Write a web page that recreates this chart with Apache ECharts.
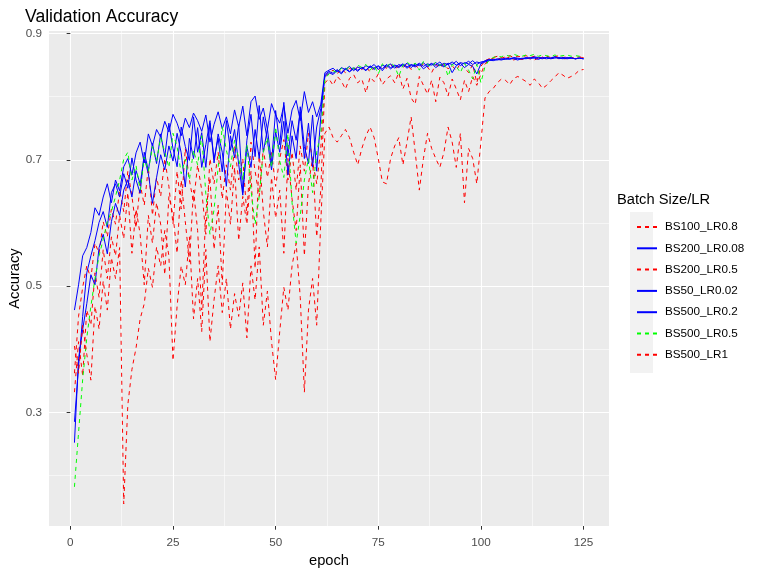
<!DOCTYPE html>
<html>
<head>
<meta charset="utf-8">
<script src="https://cdn.jsdelivr.net/npm/echarts@6/dist/echarts.min.js"></script>
<style>html,body{margin:0;padding:0;background:#fff;}#c{width:759px;height:575px;}</style>
</head>
<body>
<div id="c"></div>
<script>
// epochs 1..125
const epochs = [];
for (let i = 1; i <= 125; i++) epochs.push(i);

const seriesNames = ["BS100_LR0.8","BS200_LR0.08","BS200_LR0.5","BS50_LR0.02","BS500_LR0.2","BS500_LR0.5","BS500_LR1"];
const xTicks = [0, 25, 50, 75, 100, 125];
const xMinorTicks = [12.5, 37.5, 62.5, 87.5, 112.5];
const yTicks = [0.3, 0.5, 0.7, 0.9];
const yMinorTicks = [0.2, 0.4, 0.6, 0.8];

const BS100_LR0_8 = [
0.362,0.452,0.498,0.532,0.512,0.568,0.552,0.602,0.578,0.622,
0.598,0.652,0.618,0.682,0.642,0.592,0.662,0.628,0.688,0.612,
0.672,0.642,0.702,0.658,0.598,0.682,0.622,0.718,0.668,0.632,
0.692,0.652,0.582,0.702,0.662,0.712,0.638,0.692,0.652,0.722,
0.668,0.702,0.612,0.728,0.682,0.642,0.718,0.672,0.712,0.658,
0.702,0.732,0.668,0.712,0.652,0.722,0.682,0.742,0.698,0.662,
0.718,
0.832,0.838,0.842,0.836,0.844,0.838,0.845,0.841,0.847,
0.843,0.848,0.839,0.846,0.842,0.849,0.845,0.851,0.844,0.848,
0.846,0.851,0.843,0.849,0.845,0.852,0.847,0.838,0.851,0.846,
0.852,0.844,0.849,0.841,0.853,0.846,0.838,0.851,0.822,0.848,
0.857,0.860,0.862,0.864,0.861,0.863,0.865,0.862,0.864,0.863,
0.865,0.862,0.864,0.863,0.861,0.864,0.862,0.863,0.865,0.862,
0.863,0.861,0.862,0.863,0.862];

const BS200_LR0_08 = [
0.462,0.502,0.548,0.561,0.585,0.624,0.612,0.641,0.662,0.632,
0.668,0.651,0.689,0.702,0.676,0.711,0.728,0.695,0.741,0.722,
0.748,0.736,0.761,0.744,0.772,0.758,0.738,0.766,0.751,0.774,
0.762,0.745,0.771,0.728,0.756,0.776,0.749,0.768,0.741,0.779,
0.752,0.785,0.738,0.792,0.801,0.764,0.782,0.748,0.789,0.771,
0.758,0.786,0.742,0.779,0.794,0.762,0.808,0.775,0.792,0.768,
0.788,
0.838,0.842,0.845,0.839,0.846,0.843,0.848,0.841,0.847,
0.844,0.849,0.846,0.851,0.843,0.850,0.847,0.852,0.845,0.851,
0.848,0.853,0.846,0.852,0.849,0.854,0.847,0.852,0.850,0.855,
0.848,0.853,0.851,0.856,0.849,0.854,0.852,0.857,0.851,0.855,
0.856,0.858,0.857,0.859,0.858,0.860,0.859,0.861,0.860,0.859,
0.861,0.860,0.862,0.861,0.860,0.862,0.861,0.863,0.860,0.862,
0.861,0.862,0.860,0.861,0.860];

const BS200_LR0_5 = [
0.332,0.412,0.358,0.462,0.438,0.521,0.482,0.558,0.512,0.578,
0.548,0.612,0.575,0.648,0.552,0.622,0.582,0.502,0.612,0.568,
0.632,0.598,0.518,0.642,0.612,0.552,0.668,0.602,0.538,0.652,
0.588,0.462,0.618,0.672,0.558,0.628,0.502,0.652,0.598,0.688,
0.572,0.642,0.598,0.682,0.528,0.712,0.618,0.562,0.672,0.608,
0.652,0.552,0.702,0.638,0.588,0.692,0.548,0.662,0.702,0.578,
0.652,
0.822,0.828,0.818,0.832,0.825,0.812,0.829,0.835,0.822,
0.828,0.806,0.831,0.824,0.836,0.819,0.828,0.833,0.822,0.838,
0.812,0.829,0.798,0.788,0.832,0.818,0.804,0.826,0.792,0.831,
0.822,0.801,0.828,0.812,0.795,0.826,0.808,0.832,0.818,0.836,
0.852,0.858,0.861,0.859,0.862,0.860,0.863,0.858,0.861,0.859,
0.862,0.860,0.858,0.861,0.863,0.859,0.861,0.860,0.862,0.859,
0.861,0.862,0.860,0.861,0.862];

const BS50_LR0_02 = [
0.285,0.372,0.452,0.521,0.548,0.572,0.601,0.618,0.593,0.648,
0.662,0.641,0.678,0.655,0.703,0.668,0.647,0.712,0.683,0.726,
0.694,0.741,0.705,0.758,0.718,0.689,0.752,0.721,0.699,0.768,
0.712,0.743,0.688,0.758,0.702,0.734,0.681,0.762,0.715,0.748,
0.693,0.644,0.731,0.772,0.705,0.786,0.712,0.749,0.695,0.778,
0.724,0.791,0.706,0.762,0.731,0.776,0.702,0.758,0.689,0.752,
0.781,
0.832,0.838,0.835,0.842,0.836,0.844,0.839,0.846,0.840,
0.847,0.842,0.849,0.843,0.848,0.841,0.850,0.844,0.849,0.846,
0.851,0.845,0.850,0.847,0.852,0.844,0.849,0.853,0.846,0.851,
0.847,0.852,0.838,0.849,0.853,0.846,0.851,0.848,0.836,0.852,
0.855,0.857,0.859,0.858,0.860,0.859,0.861,0.860,0.858,0.861,
0.860,0.862,0.861,0.859,0.862,0.860,0.861,0.863,0.861,0.860,
0.862,0.861,0.860,0.861,0.860];

const BS500_LR0_2 = [
0.252,0.385,0.431,0.472,0.518,0.502,0.561,0.582,0.551,0.602,
0.631,0.612,0.652,0.668,0.641,0.683,0.662,0.704,0.678,0.631,
0.672,0.708,0.684,0.722,0.698,0.742,0.711,0.657,0.734,0.702,
0.751,0.688,0.724,0.762,0.695,0.741,0.712,0.658,0.738,0.703,
0.756,0.648,0.721,0.688,0.748,0.702,0.768,0.731,0.684,0.744,
0.712,0.761,0.676,0.738,0.702,0.784,0.721,0.694,0.771,0.682,
0.768,
0.835,0.840,0.837,0.843,0.838,0.845,0.840,0.844,0.842,
0.846,0.841,0.848,0.845,0.849,0.844,0.851,0.846,0.850,0.848,
0.852,0.847,0.851,0.849,0.853,0.848,0.852,0.850,0.854,0.849,
0.853,0.851,0.855,0.850,0.854,0.852,0.856,0.851,0.855,0.853,
0.857,0.859,0.858,0.860,0.859,0.861,0.860,0.862,0.861,0.860,
0.862,0.861,0.863,0.862,0.861,0.862,0.860,0.861,0.862,0.861,
0.860,0.861,0.860,0.861,0.860];

const BS500_LR0_5 = [
0.182,0.268,0.352,0.418,0.468,0.512,0.548,0.574,0.602,0.618,
0.642,0.668,0.701,0.712,0.668,0.691,0.652,0.704,0.682,0.721,
0.698,0.735,0.712,0.688,0.742,0.721,0.678,0.701,0.668,0.715,
0.692,0.738,0.646,0.582,0.621,0.688,0.752,0.715,0.689,0.731,
0.702,0.668,0.724,0.652,0.598,0.642,0.712,0.735,0.688,0.752,
0.698,0.672,0.741,0.632,0.568,0.612,0.668,0.702,0.648,0.712,
0.742,
0.828,0.836,0.841,0.838,0.845,0.842,0.848,0.844,0.850,
0.846,0.851,0.842,0.849,0.836,0.852,0.847,0.854,0.848,0.832,
0.850,0.855,0.849,0.853,0.842,0.856,0.851,0.847,0.855,0.849,
0.854,0.832,0.851,0.848,0.838,0.853,0.842,0.828,0.851,0.822,
0.848,0.858,0.862,0.864,0.863,0.866,0.864,0.867,0.865,0.864,
0.866,0.865,0.867,0.864,0.866,0.865,0.863,0.866,0.864,0.865,
0.866,0.864,0.865,0.864,0.865];

const BS500_LR1 = [
0.405,0.362,0.438,0.392,0.351,0.468,0.432,0.508,0.462,0.545,
0.512,0.561,0.155,0.312,0.368,0.402,0.448,0.472,0.528,0.498,
0.562,0.532,0.588,0.548,0.382,0.468,0.532,0.502,0.578,0.448,
0.512,0.428,0.558,0.412,0.478,0.532,0.458,0.512,0.432,0.488,
0.452,0.505,0.418,0.532,0.478,0.562,0.438,0.492,0.412,0.352,
0.428,0.498,0.462,0.532,0.568,0.482,0.332,0.462,0.512,0.438,
0.602,
0.742,0.752,0.735,0.728,0.738,0.748,0.735,0.712,0.692,
0.718,0.738,0.752,0.735,0.702,0.665,0.662,0.702,0.722,0.735,
0.692,0.728,0.768,0.712,0.652,0.702,0.742,0.718,0.702,0.688,
0.712,0.752,0.728,0.688,0.742,0.632,0.718,0.702,0.662,0.728,
0.798,0.808,0.813,0.822,0.828,0.826,0.819,0.829,0.832,0.828,
0.824,0.818,0.828,0.822,0.813,0.818,0.825,0.831,0.838,0.834,
0.829,0.832,0.836,0.842,0.843];

const seriesValues = [BS100_LR0_8, BS200_LR0_08, BS200_LR0_5, BS50_LR0_02, BS500_LR0_2, BS500_LR0_5, BS500_LR1];
const seriesColors = ["#FF0000","#0000FF","#FF0000","#0000FF","#0000FF","#00FF00","#FF0000"];
const seriesDashed = [true,false,true,false,false,true,true];

const FONT = "Liberation Sans, Arial, sans-serif";
const chart = echarts.init(document.getElementById('c'), null, {renderer: 'canvas'});

const series = seriesNames.map((name, i) => ({
  name: name,
  type: 'line',
  xAxisIndex: 0,
  yAxisIndex: 0,
  symbol: 'none',
  showSymbol: false,
  animation: false,
  lineStyle: { color: seriesColors[i], width: 1, type: seriesDashed[i] ? [4, 4] : 'solid' },
  itemStyle: { color: seriesColors[i] },
  data: epochs.map((e, k) => [e, seriesValues[i][k]])
}));

const option = {
  animation: false,
  backgroundColor: '#FFFFFF',
  title: {
    text: 'Validation Accuracy',
    left: 20, top: 3,
    textStyle: { fontFamily: FONT, fontSize: 17.6, fontWeight: 'normal', color: '#000' }
  },
  grid: {
    left: 49, right: 150, top: 31, bottom: 49,
    outerBoundsMode: 'none', containLabel: false,
    show: true, backgroundColor: '#EBEBEB', borderWidth: 0
  },
  legend: {
    orient: 'vertical',
    left: 631, top: 216,
    itemWidth: 20, itemHeight: 14, itemGap: 9.3,
    data: seriesNames,
    itemStyle: { opacity: 0, borderWidth: 0 },
    textStyle: { fontFamily: FONT, fontSize: 11.7, color: '#000', padding: [0, 0, 0, 3] },
    selectedMode: false
  },
  graphic: [
    { type: 'rect', left: 630, top: 212, z: 0, shape: { width: 23, height: 161 }, style: { fill: '#F2F2F2' } },
    { type: 'text', left: 617, top: 192, style: { text: 'Batch Size/LR', font: '14.7px ' + FONT, fill: '#000' } }
  ],
  xAxis: [
    {
      type: 'value', min: -5.2, max: 131.2,
      name: 'epoch', nameLocation: 'middle', nameGap: 27, nameMoveOverlap: false,
      nameTextStyle: { fontFamily: FONT, fontSize: 14.7, color: '#000' },
      axisLine: { show: false },
      axisTick: { show: true, length: 3.7, lineStyle: { color: '#333333' }, customValues: xTicks },
      axisLabel: { fontFamily: FONT, fontSize: 11.7, color: '#4D4D4D', margin: 11, customValues: xTicks },
      splitLine: { show: true, lineStyle: { color: '#FFFFFF', width: 1.1 } }
    },
    {
      type: 'value', min: -5.2, max: 131.2, position: 'bottom',
      axisLine: { show: false },
      axisTick: { show: false, customValues: xMinorTicks },
      axisLabel: { show: false, customValues: xMinorTicks },
      splitLine: { show: true, lineStyle: { color: '#FFFFFF', width: 0.55 } }
    }
  ],
  yAxis: [
    {
      type: 'value', min: 0.12, max: 0.904,
      name: 'Accuracy', nameLocation: 'middle', nameGap: 27, nameRotate: 90, nameMoveOverlap: false,
      nameTextStyle: { fontFamily: FONT, fontSize: 14.7, color: '#000' },
      axisLine: { show: false },
      axisTick: { show: true, length: 3.7, lineStyle: { color: '#333333' }, customValues: yTicks },
      axisLabel: { fontFamily: FONT, fontSize: 11.7, color: '#4D4D4D', margin: 7, customValues: yTicks, formatter: v => v.toFixed(1) },
      splitLine: { show: true, lineStyle: { color: '#FFFFFF', width: 1.1 } }
    },
    {
      type: 'value', min: 0.12, max: 0.904, position: 'left',
      axisLine: { show: false },
      axisTick: { show: false, customValues: yMinorTicks },
      axisLabel: { show: false, customValues: yMinorTicks },
      splitLine: { show: true, lineStyle: { color: '#FFFFFF', width: 0.55 } }
    }
  ],
  series: series
};
chart.setOption(option);
</script>
</body>
</html>
